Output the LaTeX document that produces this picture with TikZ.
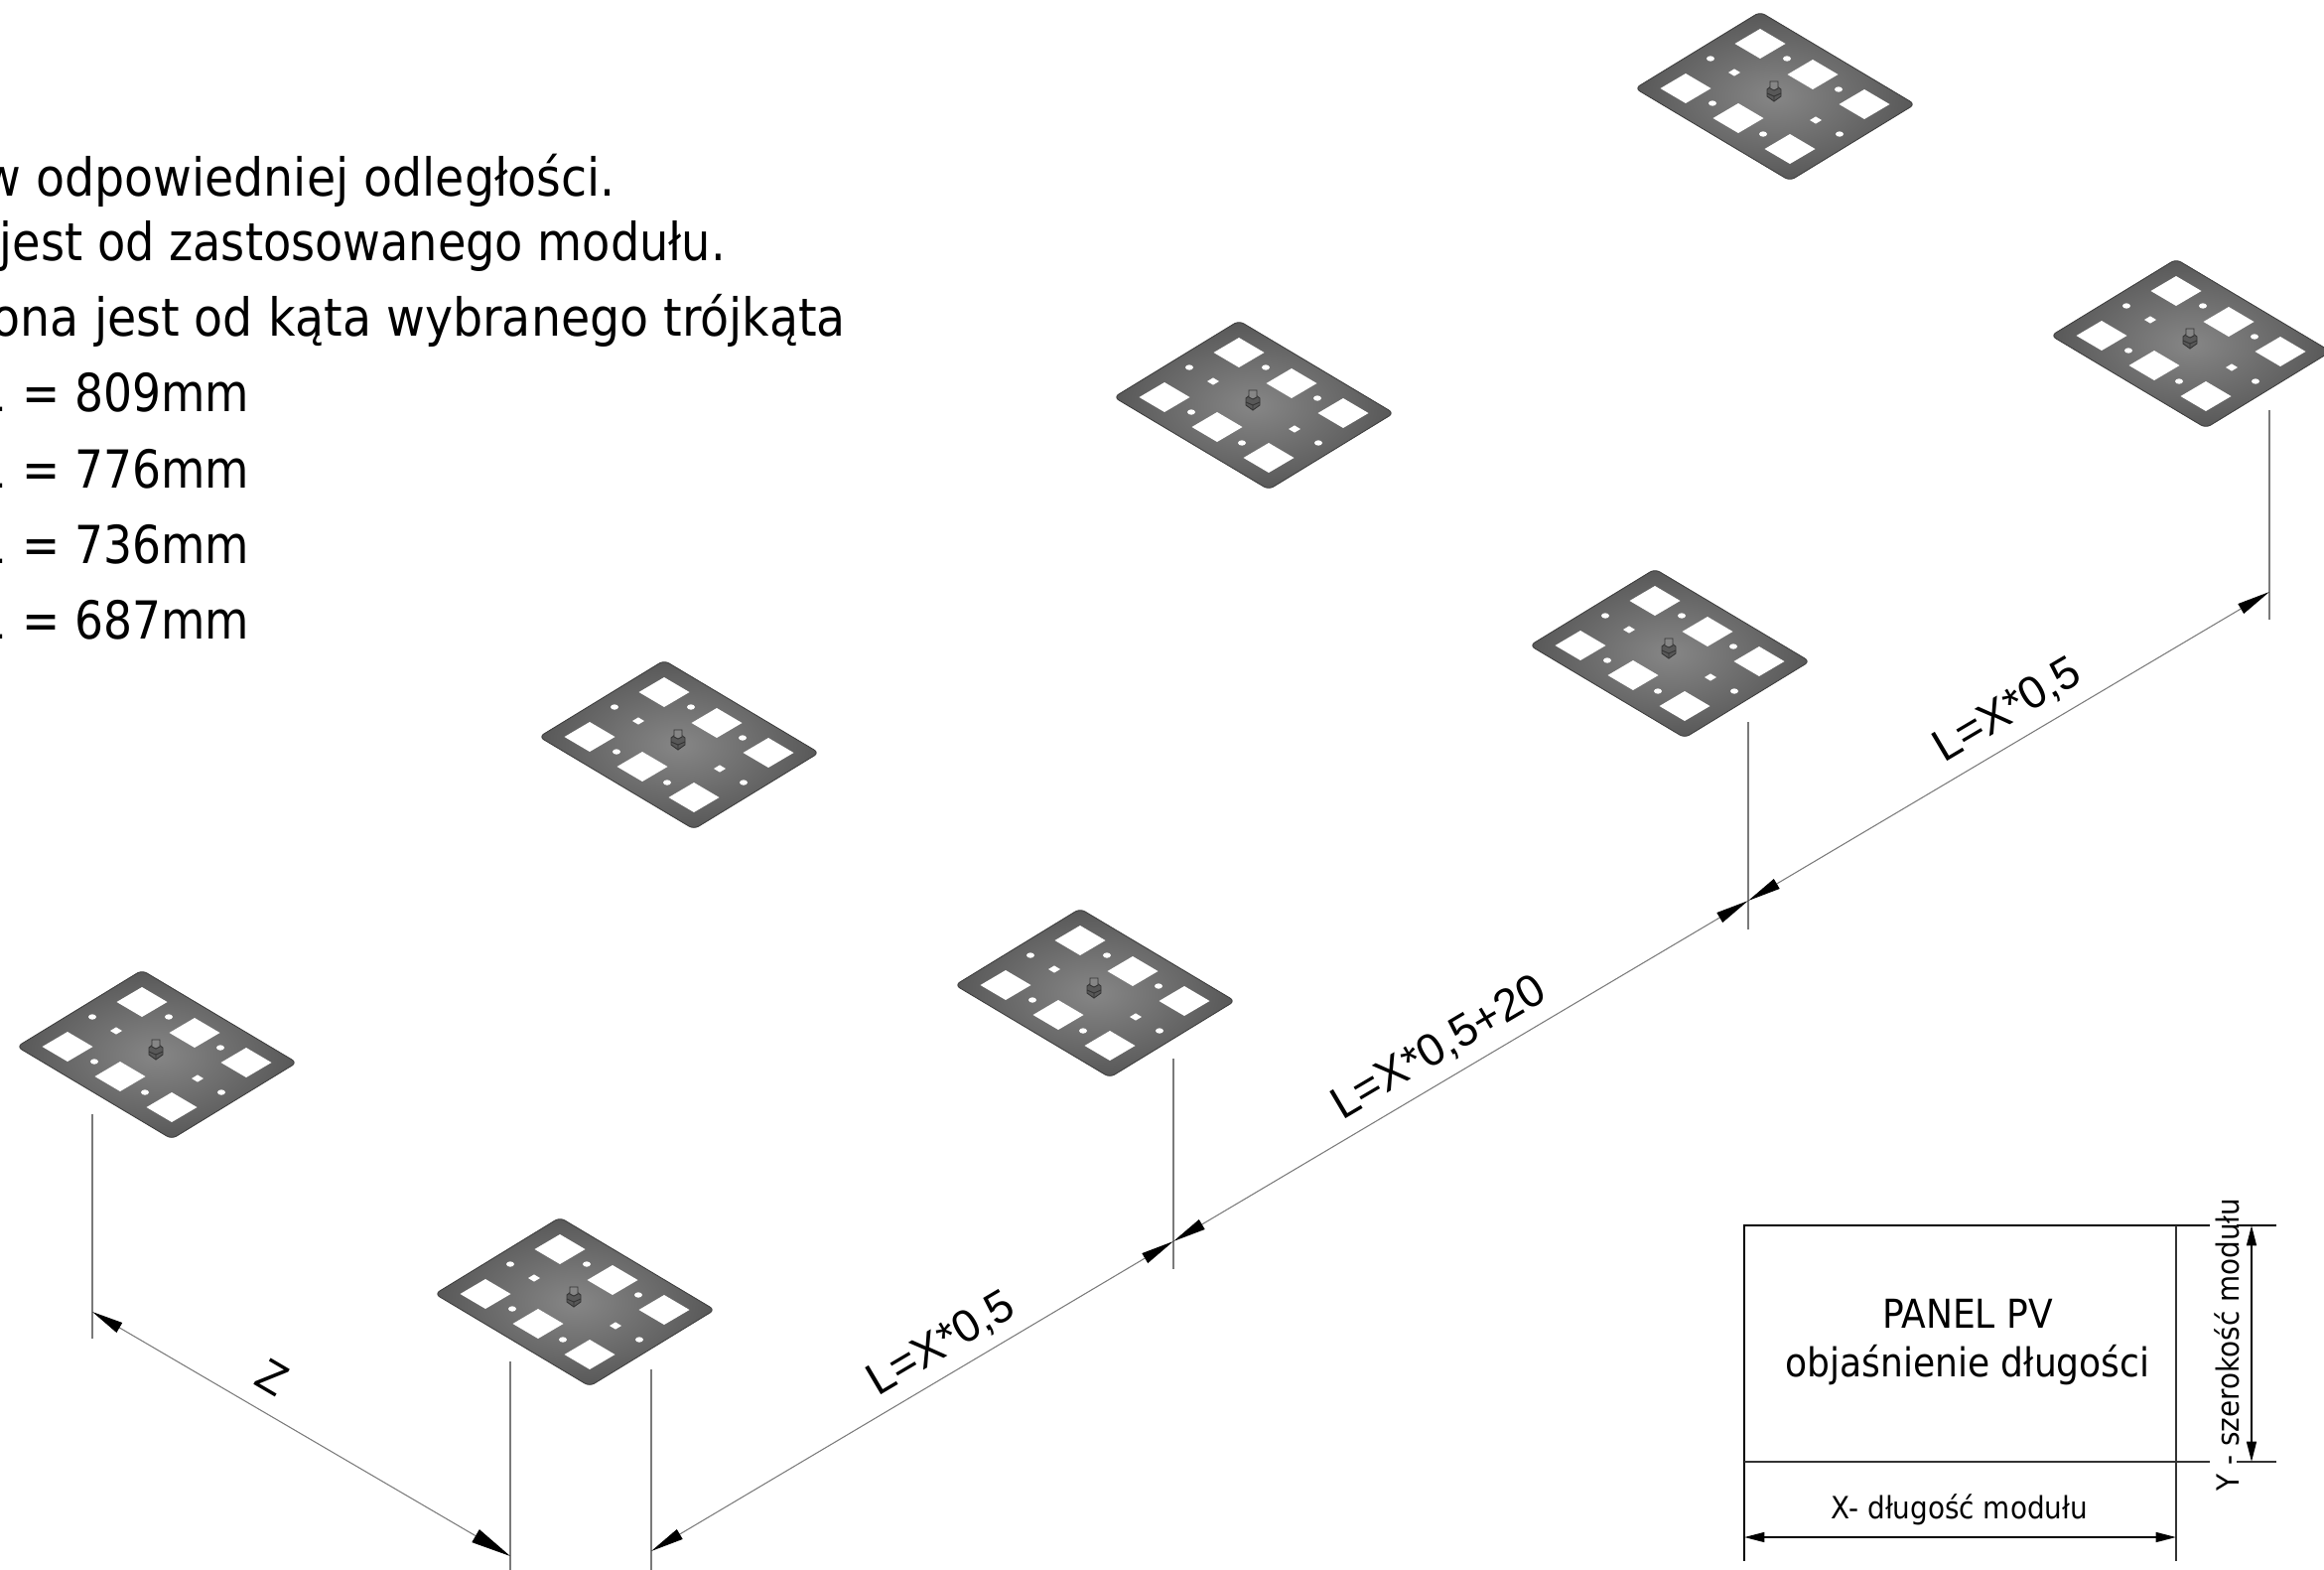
\documentclass[tikz,border=0pt]{standalone}
\usepackage{fontspec}
\setmainfont{DejaVu Sans Condensed}
\newfontfamily\dimfont{Liberation Sans}
\usetikzlibrary{arrows.meta}
\definecolor{platemid}{HTML}{868686}
\definecolor{plateedge}{HTML}{585858}
\definecolor{dimgray}{HTML}{7A7A7A}
\begin{document}
\begin{tikzpicture}[x=0.01cm,y=-0.01cm,inner sep=0pt,outer sep=0pt,
notetext/.style={font=\fontsize{15}{18}\selectfont,anchor=base east},
paneltext/.style={font=\fontsize{11.4}{14}\selectfont,anchor=base},
smalltext/.style={font=\fontsize{8.8}{11}\selectfont,anchor=base},
dimtext/.style={font=\dimfont\fontsize{13}{15}\selectfont,anchor=base},
dimline/.style={draw=dimgray,line width=0.3pt,
  {Triangle[length=9.5pt,width=3.2pt,color=black]}-{Triangle[length=9.5pt,width=3.2pt,color=black]}},
extline/.style={draw=dimgray,line width=0.35pt},
zlineA/.style={draw=dimgray,line width=0.3pt,
  {Triangle[length=9pt,width=3.2pt,color=black]}-{Triangle[length=11.5pt,width=4.2pt,color=black]}},
panelline/.style={draw=black,line width=0.55pt},
panelext/.style={draw=black!80,line width=0.5pt},
paneldim/.style={draw=black,line width=0.55pt,
  {Triangle[length=5.8pt,width=2.8pt]}-{Triangle[length=5.8pt,width=2.8pt]}},
plate/.pic={
  \shadedraw[inner color=platemid,outer color=plateedge,draw=plateedge!70!black,line width=0.25pt,rounded corners=1.6pt]
    (-15,-85) -- (141,8) -- (15,85) -- (-141,-8) -- cycle;
  \foreach \hx/\hy in {-15/-53,38/-22,-90/-8,-37/22,90/8,15/53}
    \fill[white] (\hx,\hy-15) -- (\hx+25.5,\hy) -- (\hx,\hy+15) -- (\hx-25.5,\hy) -- cycle;
  \foreach \hx/\hy in {-65/-38,12/-38,64/-7,-63/7,-12/38,65/38}
    \fill[white] (\hx,\hy) ellipse (4 and 2.7);
  \foreach \hx/\hy in {-41/-24,41/24}
    \fill[white] (\hx,\hy-3.6) -- (\hx+6,\hy) -- (\hx,\hy+3.6) -- (\hx-6,\hy) -- cycle;
  \draw[fill=plateedge,draw=black!80,line width=0.25pt]
    (-8,-7) -- (-4,-10) -- (2,-10) -- (6,-7) -- (6,0) -- (-1,5) -- (-8,0) -- cycle;
  \draw[fill=platemid,draw=black!80,line width=0.25pt]
    (-5,-8) -- (-5,-15) -- (3,-15) -- (3,-8) -- (-1,-6) -- cycle;
  \draw[black!80,line width=0.25pt] (-8,-3) -- (-1,0) -- (6,-3) (-1,0) -- (-1,5);
}]
\useasboundingbox (0,0) rectangle (2341,1581);
\clip (0,0) rectangle (2341,1581);
% plates
\pic at (158,1062) {plate};
\pic at (579,1311) {plate};
\pic at (1103,1000) {plate};
\pic at (684,750) {plate};
\pic at (1263,408) {plate};
\pic at (1682,658) {plate};
\pic at (1788,97) {plate};
\pic at (2207,346) {plate};
% notes
\node[notetext] (note1) at (620,197) {w odpowiedniej odległości.};
\node[notetext] (note2) at (731,262) {\scalebox{.974}[1]{jest od zastosowanego modułu.}};
\node[notetext] (note3) at (852,338) {ona jest od kąta wybranego trójkąta};
\node[notetext] (len1) at (251,414) {\scalebox{.96}[1]{L\hspace{1.5pt} = 809mm}};
\node[notetext] (len2) at (251,491) {\scalebox{.96}[1]{L\hspace{1.5pt} = 776mm}};
\node[notetext] (len3) at (251,567) {\scalebox{.96}[1]{L\hspace{1.5pt} = 736mm}};
\node[notetext] (len4) at (251,643) {\scalebox{.96}[1]{L\hspace{1.5pt} = 687mm}};
% dimension lines
\coordinate (zA) at (93,1321);
\coordinate (zB) at (514,1567);
\coordinate (dA) at (656,1562);
\coordinate (dB) at (1182,1250);
\coordinate (dC) at (1761,907);
\coordinate (dD) at (2286,596);
\draw[extline] (93,1122) -- (93,1348);
\draw[extline] (514,1371) -- (514,1581);
\draw[extline] (656,1379) -- (656,1581);
\draw[extline] (1182,1066) -- (1182,1278);
\draw[extline] (1761,727) -- (1761,936);
\draw[extline] (2286,413) -- (2286,624);
\draw[zlineA] (zA) -- (zB);
\draw[dimline] (dA) -- (dB);
\draw[dimline] (dB) -- (dC);
\draw[dimline] (dC) -- (dD);
\node[dimtext,anchor=center,rotate=-30.4] (zlab) at (274,1387) {Z};
\node[dimtext,rotate=30.6] (lab1) at (955,1365) {L=X*0,5};
\node[dimtext,rotate=30.6] (lab2) at (1456,1067) {L=X*0,5+20};
\node[dimtext,rotate=30.6] (lab3) at (2029,727) {L=X*0,5};
% panel
\coordinate (ptl) at (1757,1234);
\coordinate (ptr) at (2192,1234);
\coordinate (pbl) at (1757,1472);
\coordinate (pbr) at (2192,1472);
\draw[panelline] (ptr) -- (ptl) -- (1757,1572);
\draw[panelline] (ptr) -- (2226,1234) (2253,1234) -- (2293,1234);
\draw[panelext] (pbl) -- (2226,1472) (2253,1472) -- (2293,1472);
\draw[panelext] (ptr) -- (2192,1572);
\node[paneltext] (pv1) at (1982,1337) {PANEL PV};
\node[paneltext] (pv2) at (1982,1386) {objaśnienie długości};
\node[smalltext] (xlab) at (1974,1529) {X- długość modułu};
\node[smalltext,rotate=90] (ylab) at (2255,1354) {Y - szerokość modułu};
\draw[paneldim] (1757,1548) -- (2192,1548);
\draw[paneldim] (2268,1234) -- (2268,1472);
\end{tikzpicture}
\end{document}
